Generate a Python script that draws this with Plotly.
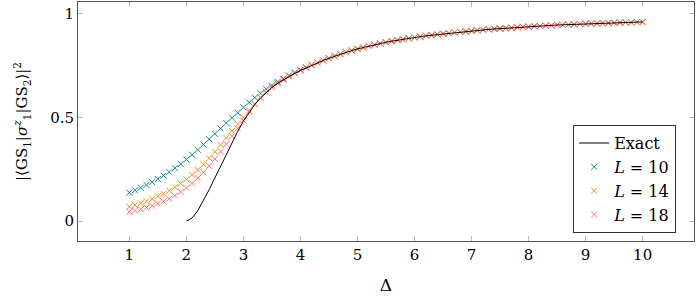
import plotly.graph_objects as go

# ---- data ----
delta_markers = [round(1.0 + 0.1 * i, 1) for i in range(91)]   # 1.0 ... 10.0
delta_exact = [round(2.0 + 0.1 * i, 1) for i in range(81)]      # 2.0 ... 10.0

exact_vals = [
    0.000, 0.015, 0.050, 0.098, 0.152, 0.208, 0.265, 0.322, 0.378, 0.432,
    0.482, 0.525, 0.562, 0.593, 0.620, 0.644, 0.664, 0.681, 0.697, 0.712,
    0.726, 0.739, 0.751, 0.763, 0.774, 0.785, 0.795, 0.805, 0.814, 0.822,
    0.830, 0.837, 0.844, 0.850, 0.856, 0.862, 0.867, 0.872, 0.876, 0.881,
    0.885, 0.889, 0.893, 0.896, 0.900, 0.903, 0.906, 0.909, 0.912, 0.914,
    0.917, 0.919, 0.922, 0.924, 0.926, 0.928, 0.930, 0.932, 0.934, 0.936,
    0.937, 0.939, 0.940, 0.942, 0.943, 0.945, 0.946, 0.947, 0.948, 0.950,
    0.951, 0.952, 0.953, 0.954, 0.955, 0.956, 0.957, 0.958, 0.958, 0.959,
    0.960,
]

# finite-size values where they differ visibly from the exact curve
l10_low = [  # Delta 1.0 ... 4.4
    0.137, 0.149, 0.161, 0.174, 0.188, 0.203, 0.219, 0.236, 0.255, 0.275,
    0.297, 0.320, 0.344, 0.369, 0.395, 0.421, 0.447, 0.473, 0.498, 0.522,
    0.548, 0.572, 0.595, 0.616, 0.636, 0.654, 0.671, 0.687, 0.702, 0.716,
    0.729, 0.741, 0.753, 0.764, 0.775,
]
l14_low = [  # Delta 1.0 ... 3.9
    0.069, 0.077, 0.086, 0.096, 0.107, 0.119, 0.132, 0.147, 0.163, 0.181,
    0.201, 0.223, 0.247, 0.274, 0.303, 0.334, 0.367, 0.401, 0.435, 0.468,
    0.500, 0.533, 0.566, 0.596, 0.622, 0.646, 0.666, 0.683, 0.699, 0.713,
]
l18_low = [  # Delta 1.0 ... 3.4
    0.045, 0.051, 0.057, 0.065, 0.074, 0.084, 0.095, 0.108, 0.123, 0.140,
    0.160, 0.182, 0.207, 0.235, 0.266, 0.299, 0.334, 0.371, 0.409, 0.447,
    0.485, 0.527, 0.563, 0.594, 0.620,
]

# at larger Delta the finite-size data coincide with the exact curve
l10_vals = l10_low + exact_vals[len(l10_low) - 10:]
l14_vals = l14_low + exact_vals[len(l14_low) - 10:]
l18_vals = l18_low + exact_vals[len(l18_low) - 10:]

series = [
    ("<i>L</i> = 10", l10_vals, "#108a8a"),
    ("<i>L</i> = 14", l14_vals, "#ff8c1a"),
    ("<i>L</i> = 18", l18_vals, "#ff7373"),
]

x_ticks = [1, 2, 3, 4, 5, 6, 7, 8, 9, 10]
y_ticks = [0, 0.5, 1]
y_tick_text = ["0", "0.5", "1"]

FONT = "DejaVu Serif"

fig = go.Figure()
for i, (name, vals, col) in enumerate(series):
    fig.add_trace(go.Scatter(
        x=delta_markers, y=vals, mode="markers", name=name,
        marker=dict(symbol="x-thin", size=6, color=col,
                    line=dict(color=col, width=1)),
        legendrank=2 + i,
    ))
fig.add_trace(go.Scatter(
    x=delta_exact, y=exact_vals, mode="lines", name="Exact",
    line=dict(color="black", width=1), legendrank=1,
))

axis_common = dict(
    showline=True, linecolor="#555555", linewidth=1, mirror="ticks",
    ticks="inside", ticklen=5, tickcolor="#bbbbbb", tickwidth=1,
    showgrid=False, zeroline=False, automargin=False,
    tickfont=dict(family=FONT, size=15, color="black"),
)

fig.update_layout(
    width=696, height=297,
    margin=dict(l=78, r=2, t=2, b=56),
    paper_bgcolor="white", plot_bgcolor="white",
    font=dict(family=FONT, size=15, color="black"),
    xaxis=dict(range=[0.1, 10.9], tickvals=x_ticks,
               title=dict(text="Δ", font=dict(family=FONT, size=17), standoff=16),
               **axis_common),
    yaxis=dict(range=[-0.096, 1.056], tickvals=y_ticks, ticktext=y_tick_text,
               title=dict(text="|⟨GS<sub>1</sub>|<i>σ</i><sup><i>z</i></sup><sub>1</sub>|GS<sub>2</sub>⟩|<sup>2</sup>",
                          font=dict(family=FONT, size=15), standoff=18),
               **axis_common),
    legend=dict(x=0.971, y=0.033, xanchor="right", yanchor="bottom",
                bgcolor="white", bordercolor="#333333", borderwidth=1,
                font=dict(family=FONT, size=16), tracegroupgap=0,
                itemwidth=30),
    showlegend=True,
)

fig.write_html("out.html",
               config={"displayModeBar": False},
               post_script="document.body.style.margin='0';document.body.style.padding='0';")
